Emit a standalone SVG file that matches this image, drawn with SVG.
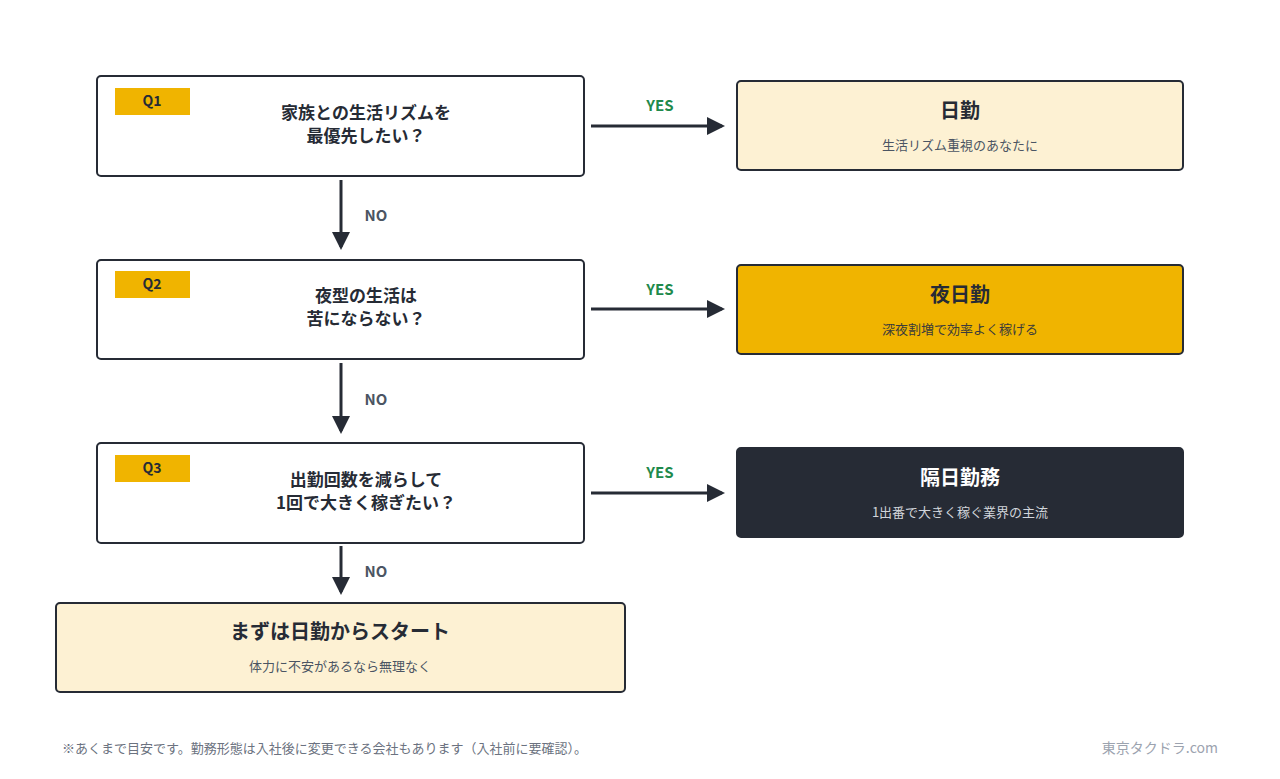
<svg xmlns="http://www.w3.org/2000/svg" width="1280" height="779" viewBox="0 0 1280 779">
<style>
text{font-family:"Noto Sans CJK JP","Noto Sans",sans-serif}
.q{fill:#fff;stroke:#262b35;stroke-width:2}
.badge{fill:#f0b400}
.bt{font-size:14px;font-weight:700;fill:#262b35;text-anchor:middle}
.qt{font-size:17px;font-weight:700;fill:#262b35;text-anchor:middle}
.rt{font-size:20px;font-weight:700;text-anchor:middle}
.rs{font-size:13px;text-anchor:middle}
.yes{font-size:15px;font-weight:700;fill:#1f8a4c;text-anchor:middle}
.no{font-size:15px;font-weight:700;fill:#4b5563;text-anchor:middle}
.ln{stroke:#262b35;stroke-width:3;fill:none;marker-end:url(#ah)}
</style>
<defs><marker id="ah" markerWidth="6" markerHeight="6" refX="5" refY="3" orient="auto"><path d="M0,0L6,3L0,6z" fill="#262b35"/></marker></defs>
<rect width="1280" height="779" fill="#fff"/>
<g id="q1"><rect class="q" x="97" y="76" width="487" height="100" rx="4"/><rect class="badge" x="115" y="88" width="75" height="27"/><text class="bt" x="152" y="106">Q1</text><text class="qt" x="366" y="119">家族との生活リズムを</text><text class="qt" x="366" y="142">最優先したい？</text></g>
<g id="q2"><rect class="q" x="97" y="260" width="487" height="99" rx="4"/><rect class="badge" x="115" y="271" width="75" height="27"/><text class="bt" x="152" y="289">Q2</text><text class="qt" x="366" y="302">夜型の生活は</text><text class="qt" x="366" y="325">苦にならない？</text></g>
<g id="q3"><rect class="q" x="97" y="443" width="487" height="100" rx="4"/><rect class="badge" x="115" y="455" width="75" height="27"/><text class="bt" x="152" y="473">Q3</text><text class="qt" x="366" y="486">出勤回数を減らして</text><text class="qt" x="366" y="509">1回で大きく稼ぎたい？</text></g>
<g id="r1"><rect x="737" y="81" width="446" height="89" rx="4" fill="#fdf1d3" stroke="#262b35" stroke-width="2"/><text class="rt" x="960" y="118" fill="#262b35">日勤</text><text class="rs" x="960" y="150" fill="#4b5563">生活リズム重視のあなたに</text></g>
<g id="r2"><rect x="737" y="265" width="446" height="89" rx="4" fill="#f0b400" stroke="#262b35" stroke-width="2"/><text class="rt" x="960" y="302" fill="#262b35">夜日勤</text><text class="rs" x="960" y="334" fill="#3b3b3b">深夜割増で効率よく稼げる</text></g>
<g id="r3"><rect x="737" y="448" width="446" height="89" rx="4" fill="#262b35" stroke="#262b35" stroke-width="2"/><text class="rt" x="960" y="485" fill="#fff">隔日勤務</text><text class="rs" x="960" y="517" fill="#d1d5db">1出番で大きく稼ぐ業界の主流</text></g>
<g id="r4"><rect x="56" y="603" width="569" height="89" rx="4" fill="#fdf1d3" stroke="#262b35" stroke-width="2"/><text class="rt" x="340" y="639" fill="#262b35">まずは日勤からスタート</text><text class="rs" x="340" y="671" fill="#4b5563">体力に不安があるなら無理なく</text></g>
<g id="connectors">
<line class="ln" x1="591" y1="126" x2="722" y2="126"/><text class="yes" x="660" y="111">YES</text>
<line class="ln" x1="591" y1="309" x2="722" y2="309"/><text class="yes" x="660" y="295">YES</text>
<line class="ln" x1="591" y1="493" x2="722" y2="493"/><text class="yes" x="660" y="478">YES</text>
<line class="ln" x1="341" y1="180" x2="341" y2="247"/><text class="no" x="376" y="221">NO</text>
<line class="ln" x1="341" y1="363" x2="341" y2="431"/><text class="no" x="376" y="405">NO</text>
<line class="ln" x1="341" y1="546" x2="341" y2="592"/><text class="no" x="376" y="577">NO</text>
</g>
<text x="62" y="753" font-size="13" fill="#6b7280">※あくまで目安です。勤務形態は入社後に変更できる会社もあります（入社前に要確認）。</text>
<text x="1218" y="753" font-size="14" fill="#9ca3af" text-anchor="end">東京タクドラ.com</text>
</svg>
